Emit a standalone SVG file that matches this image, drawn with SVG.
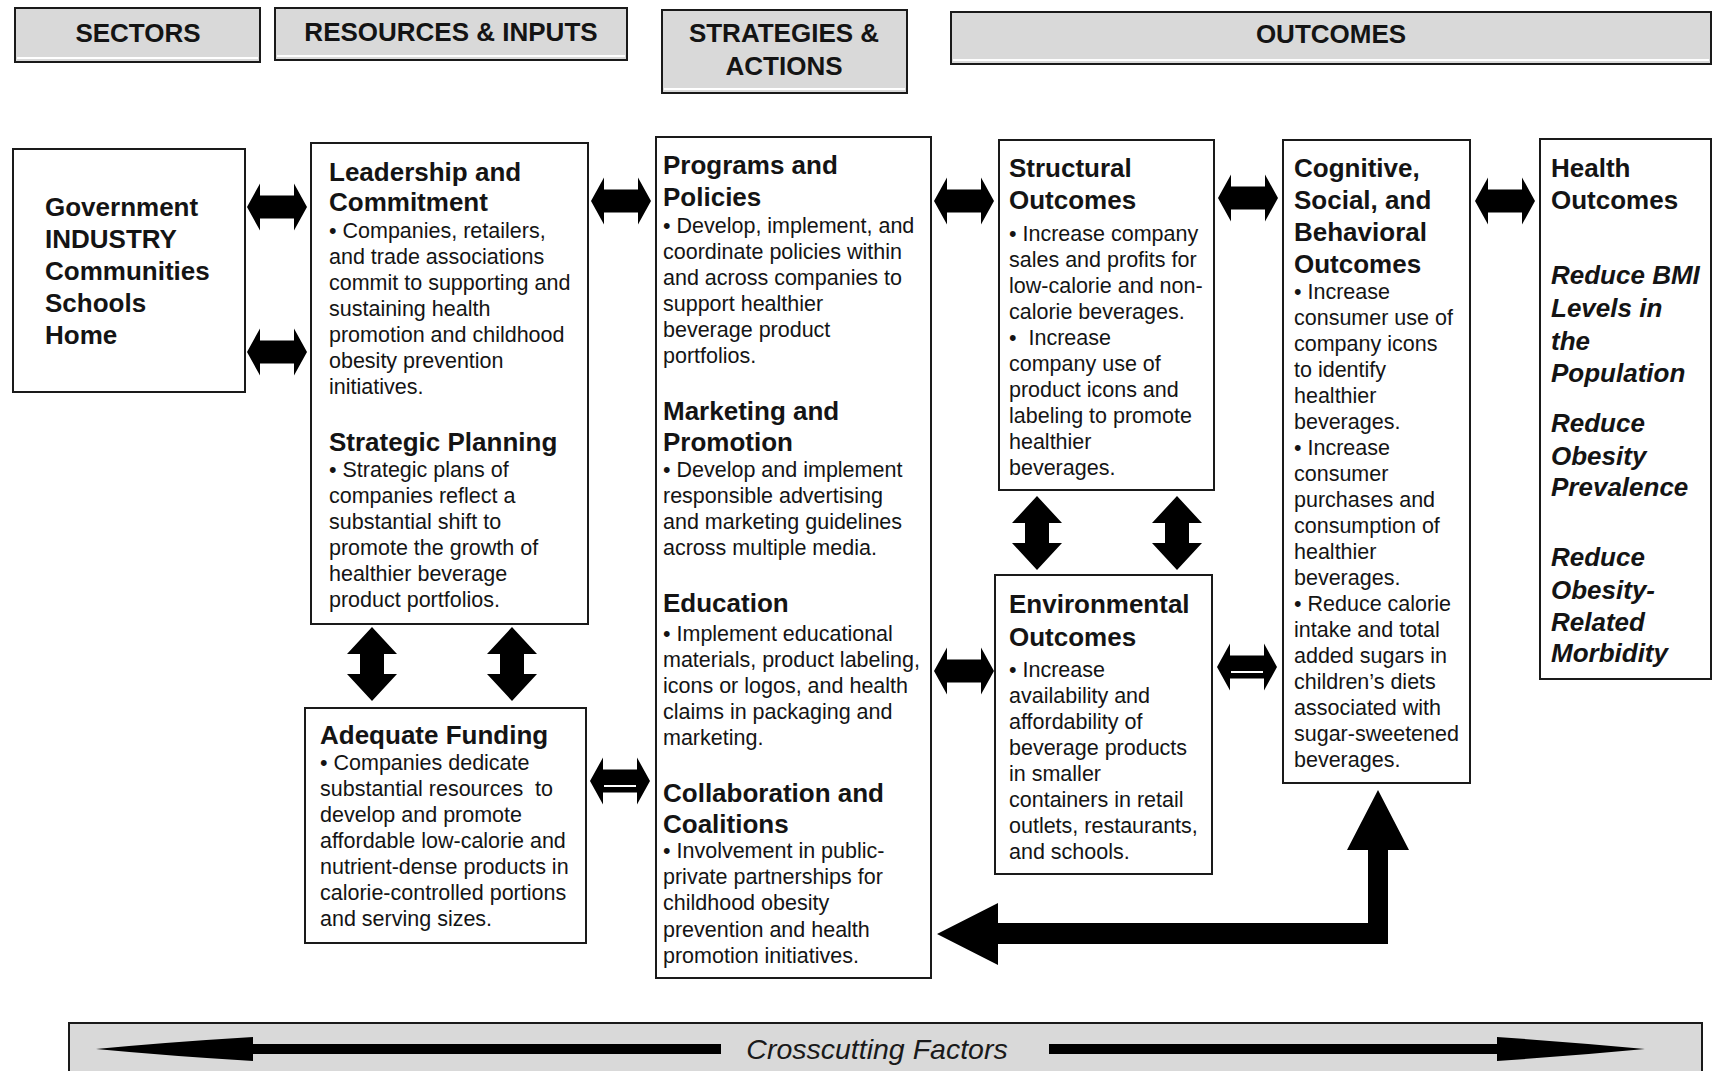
<svg xmlns="http://www.w3.org/2000/svg" xmlns:xlink="http://www.w3.org/1999/xlink" width="1714" height="1071" viewBox="0 0 1714 1071">
  <style>
    .hdr { fill: #d9d9d9; stroke: #1a1a1a; stroke-width: 2; }
    .bevel { stroke: #ffffff; stroke-width: 2; }
    .box { fill: #ffffff; stroke: #1a1a1a; stroke-width: 2; }
    .ht { font-family: "Liberation Sans", Arial, sans-serif; font-size: 26px; font-weight: bold; fill: #141414; text-anchor: middle; }
    .h { font-family: "Liberation Sans", Arial, sans-serif; font-size: 26px; font-weight: bold; fill: #141414; }
    .b { font-family: "Liberation Sans", Arial, sans-serif; font-size: 21.5px; fill: #141414; }
    .hi { font-family: "Liberation Sans", Arial, sans-serif; font-size: 26px; font-weight: bold; font-style: italic; fill: #141414; }
    .cf { font-family: "Liberation Sans", Arial, sans-serif; font-size: 28.5px; font-style: italic; fill: #1a1a1a; text-anchor: middle; }
    .arr { fill: #000000; }
    .nick { stroke: #ffffff; stroke-width: 2; }
  </style>
  <defs>
    <!-- horizontal two-headed block arrow, 60 long, centred on origin -->
    <path id="dblH" d="M-30,0 L-17,-23.5 L-17,-11.5 L17,-11.5 L17,-23.5 L30,0 L17,23.5 L17,11.5 L-17,11.5 L-17,23.5 Z"/>
    <!-- vertical two-headed block arrow, 74 long, centred on origin -->
    <path id="dblV" d="M0,-37 L25,-10 L12,-10 L12,10 L25,10 L0,37 L-25,10 L-12,10 L-12,-10 L-25,-10 Z"/>
  </defs>

  <rect width="1714" height="1071" fill="#ffffff"/>

  <!-- column headers -->
  <g id="hdr-sectors">
    <rect class="hdr" x="15" y="8" width="245" height="54"/>
    <line class="bevel" x1="17" y1="58" x2="258" y2="58"/>
    <text class="ht" x="138" y="42">SECTORS</text>
  </g>
  <g id="hdr-resources">
    <rect class="hdr" x="275" y="8" width="352" height="52"/>
    <line class="bevel" x1="277" y1="56" x2="625" y2="56"/>
    <text class="ht" x="451" y="41">RESOURCES &amp; INPUTS</text>
  </g>
  <g id="hdr-strategies">
    <rect class="hdr" x="662" y="10" width="245" height="83"/>
    <line class="bevel" x1="664" y1="89" x2="905" y2="89"/>
    <text class="ht" x="784" y="42">STRATEGIES &amp;</text>
    <text class="ht" x="784" y="75">ACTIONS</text>
  </g>
  <g id="hdr-outcomes">
    <rect class="hdr" x="951" y="12" width="760" height="52"/>
    <line class="bevel" x1="953" y1="60" x2="1709" y2="60"/>
    <text class="ht" x="1331" y="43">OUTCOMES</text>
  </g>

  <!-- sectors -->
  <g id="sectors">
    <rect class="box" x="13" y="149" width="232" height="243"/>
    <text class="h">
      <tspan x="45" y="216">Government</tspan>
      <tspan x="45" y="248">INDUSTRY</tspan>
      <tspan x="45" y="280">Communities</tspan>
      <tspan x="45" y="312">Schools</tspan>
      <tspan x="45" y="344">Home</tspan>
    </text>
  </g>

  <!-- resources and inputs -->
  <g id="leadership">
    <rect class="box" x="311" y="143" width="277" height="481"/>
    <text class="h">
      <tspan x="329" y="181">Leadership and</tspan>
      <tspan x="329" y="211">Commitment</tspan>
    </text>
    <text class="b">
      <tspan x="329" y="238">• Companies, retailers,</tspan>
      <tspan x="329" y="264">and trade associations</tspan>
      <tspan x="329" y="290">commit to supporting and</tspan>
      <tspan x="329" y="316">sustaining health</tspan>
      <tspan x="329" y="342">promotion and childhood</tspan>
      <tspan x="329" y="368">obesity prevention</tspan>
      <tspan x="329" y="394">initiatives.</tspan>
    </text>
    <text class="h"><tspan x="329" y="451">Strategic Planning</tspan></text>
    <text class="b">
      <tspan x="329" y="477">• Strategic plans of</tspan>
      <tspan x="329" y="503">companies reflect a</tspan>
      <tspan x="329" y="529">substantial shift to</tspan>
      <tspan x="329" y="555">promote the growth of</tspan>
      <tspan x="329" y="581">healthier beverage</tspan>
      <tspan x="329" y="607">product portfolios.</tspan>
    </text>
  </g>

  <g id="funding">
    <rect class="box" x="305" y="708" width="281" height="235"/>
    <text class="h"><tspan x="320" y="744">Adequate Funding</tspan></text>
    <text class="b">
      <tspan x="320" y="770">• Companies dedicate</tspan>
      <tspan x="320" y="796">substantial resources &#160;to</tspan>
      <tspan x="320" y="822">develop and promote</tspan>
      <tspan x="320" y="848">affordable low-calorie and</tspan>
      <tspan x="320" y="874">nutrient-dense products in</tspan>
      <tspan x="320" y="900">calorie-controlled portions</tspan>
      <tspan x="320" y="926">and serving sizes.</tspan>
    </text>
  </g>

  <!-- strategies and actions -->
  <g id="strategies">
    <rect class="box" x="656" y="137" width="275" height="841"/>
    <text class="h">
      <tspan x="663" y="174">Programs and</tspan>
      <tspan x="663" y="206">Policies</tspan>
    </text>
    <text class="b">
      <tspan x="663" y="233">• Develop, implement, and</tspan>
      <tspan x="663" y="259">coordinate policies within</tspan>
      <tspan x="663" y="285">and across companies to</tspan>
      <tspan x="663" y="311">support healthier</tspan>
      <tspan x="663" y="337">beverage product</tspan>
      <tspan x="663" y="363">portfolios.</tspan>
    </text>
    <text class="h">
      <tspan x="663" y="420">Marketing and</tspan>
      <tspan x="663" y="451">Promotion</tspan>
    </text>
    <text class="b">
      <tspan x="663" y="477">• Develop and implement</tspan>
      <tspan x="663" y="503">responsible advertising</tspan>
      <tspan x="663" y="529">and marketing guidelines</tspan>
      <tspan x="663" y="555">across multiple media.</tspan>
    </text>
    <text class="h"><tspan x="663" y="612">Education</tspan></text>
    <text class="b">
      <tspan x="663" y="641">• Implement educational</tspan>
      <tspan x="663" y="667">materials, product labeling,</tspan>
      <tspan x="663" y="693">icons or logos, and health</tspan>
      <tspan x="663" y="719">claims in packaging and</tspan>
      <tspan x="663" y="745">marketing.</tspan>
    </text>
    <text class="h">
      <tspan x="663" y="802">Collaboration and</tspan>
      <tspan x="663" y="833">Coalitions</tspan>
    </text>
    <text class="b">
      <tspan x="663" y="858">• Involvement in public-</tspan>
      <tspan x="663" y="884">private partnerships for</tspan>
      <tspan x="663" y="910">childhood obesity</tspan>
      <tspan x="663" y="937">prevention and health</tspan>
      <tspan x="663" y="963">promotion initiatives.</tspan>
    </text>
  </g>

  <!-- outcomes -->
  <g id="structural">
    <rect class="box" x="999" y="140" width="215" height="350"/>
    <text class="h">
      <tspan x="1009" y="177">Structural</tspan>
      <tspan x="1009" y="209">Outcomes</tspan>
    </text>
    <text class="b">
      <tspan x="1009" y="241">• Increase company</tspan>
      <tspan x="1009" y="267">sales and profits for</tspan>
      <tspan x="1009" y="293">low-calorie and non-</tspan>
      <tspan x="1009" y="319">calorie beverages.</tspan>
      <tspan x="1009" y="345">• &#160;Increase</tspan>
      <tspan x="1009" y="371">company use of</tspan>
      <tspan x="1009" y="397">product icons and</tspan>
      <tspan x="1009" y="423">labeling to promote</tspan>
      <tspan x="1009" y="449">healthier</tspan>
      <tspan x="1009" y="475">beverages.</tspan>
    </text>
  </g>

  <g id="environmental">
    <rect class="box" x="995" y="575" width="217" height="299"/>
    <text class="h">
      <tspan x="1009" y="613">Environmental</tspan>
      <tspan x="1009" y="646">Outcomes</tspan>
    </text>
    <text class="b">
      <tspan x="1009" y="677">• Increase</tspan>
      <tspan x="1009" y="703">availability and</tspan>
      <tspan x="1009" y="729">affordability of</tspan>
      <tspan x="1009" y="755">beverage products</tspan>
      <tspan x="1009" y="781">in smaller</tspan>
      <tspan x="1009" y="807">containers in retail</tspan>
      <tspan x="1009" y="833">outlets, restaurants,</tspan>
      <tspan x="1009" y="859">and schools.</tspan>
    </text>
  </g>

  <g id="behavioral">
    <rect class="box" x="1283" y="140" width="187" height="643"/>
    <text class="h">
      <tspan x="1294" y="177">Cognitive,</tspan>
      <tspan x="1294" y="209">Social, and</tspan>
      <tspan x="1294" y="241">Behavioral</tspan>
      <tspan x="1294" y="273">Outcomes</tspan>
    </text>
    <text class="b">
      <tspan x="1294" y="299">• Increase</tspan>
      <tspan x="1294" y="325">consumer use of</tspan>
      <tspan x="1294" y="351">company icons</tspan>
      <tspan x="1294" y="377">to identify</tspan>
      <tspan x="1294" y="403">healthier</tspan>
      <tspan x="1294" y="429">beverages.</tspan>
      <tspan x="1294" y="455">• Increase</tspan>
      <tspan x="1294" y="481">consumer</tspan>
      <tspan x="1294" y="507">purchases and</tspan>
      <tspan x="1294" y="533">consumption of</tspan>
      <tspan x="1294" y="559">healthier</tspan>
      <tspan x="1294" y="585">beverages.</tspan>
      <tspan x="1294" y="611">• Reduce calorie</tspan>
      <tspan x="1294" y="637">intake and total</tspan>
      <tspan x="1294" y="663">added sugars in</tspan>
      <tspan x="1294" y="689">children’s diets</tspan>
      <tspan x="1294" y="715">associated with</tspan>
      <tspan x="1294" y="741">sugar-sweetened</tspan>
      <tspan x="1294" y="767">beverages.</tspan>
    </text>
  </g>

  <g id="health">
    <rect class="box" x="1540" y="139" width="171" height="540"/>
    <text class="h">
      <tspan x="1551" y="177">Health</tspan>
      <tspan x="1551" y="209">Outcomes</tspan>
    </text>
    <text class="hi">
      <tspan x="1551" y="284">Reduce BMI</tspan>
      <tspan x="1551" y="317">Levels in</tspan>
      <tspan x="1551" y="350">the</tspan>
      <tspan x="1551" y="382">Population</tspan>
      <tspan x="1551" y="432">Reduce</tspan>
      <tspan x="1551" y="465">Obesity</tspan>
      <tspan x="1551" y="496">Prevalence</tspan>
      <tspan x="1551" y="566">Reduce</tspan>
      <tspan x="1551" y="599">Obesity-</tspan>
      <tspan x="1551" y="631">Related</tspan>
      <tspan x="1551" y="662">Morbidity</tspan>
    </text>
  </g>

  <!-- crosscutting factors band -->
  <g id="crosscutting">
    <rect class="hdr" x="69" y="1023" width="1633" height="60"/>
    <path class="arr" d="M96,1049 Q170,1042 253,1037 L253,1044 L721,1044 L721,1054 L253,1054 L253,1061 Q170,1056 96,1049 Z"/>
    <path class="arr" d="M1645,1049 Q1571,1042 1497,1037 L1497,1044 L1049,1044 L1049,1054 L1497,1054 L1497,1061 Q1571,1056 1645,1049 Z"/>
    <text class="cf" x="877" y="1059">Crosscutting Factors</text>
  </g>

  <!-- connectors -->
  <g id="connectors" class="arr">
    <use xlink:href="#dblH" href="#dblH" transform="translate(277,207)"/>
    <use xlink:href="#dblH" href="#dblH" transform="translate(277,352)"/>
    <use xlink:href="#dblH" href="#dblH" transform="translate(621,201)"/>
    <use xlink:href="#dblH" href="#dblH" transform="translate(964,201)"/>
    <use xlink:href="#dblH" href="#dblH" transform="translate(964,671)"/>
    <use xlink:href="#dblH" href="#dblH" transform="translate(1248,198)"/>
    <use xlink:href="#dblH" href="#dblH" transform="translate(1247,667)"/>
    <use xlink:href="#dblH" href="#dblH" transform="translate(1505,201)"/>
    <use xlink:href="#dblH" href="#dblH" transform="translate(620,781)"/>
    <line class="nick" x1="604" y1="786" x2="636" y2="786"/>
    <line class="nick" x1="1231" y1="672" x2="1263" y2="672"/>

    <use xlink:href="#dblV" href="#dblV" transform="translate(372,664)"/>
    <use xlink:href="#dblV" href="#dblV" transform="translate(512,664)"/>
    <use xlink:href="#dblV" href="#dblV" transform="translate(1037,533)"/>
    <use xlink:href="#dblV" href="#dblV" transform="translate(1177,533)"/>

    <!-- feedback loop from behavioral outcomes back to strategies -->
    <path d="M937,934 L998,903 L998,923 L1368,923 L1368,850 L1347,850 L1378,790 L1409,850 L1388,850 L1388,944 L998,944 L998,965 Z"/>
  </g>
</svg>
